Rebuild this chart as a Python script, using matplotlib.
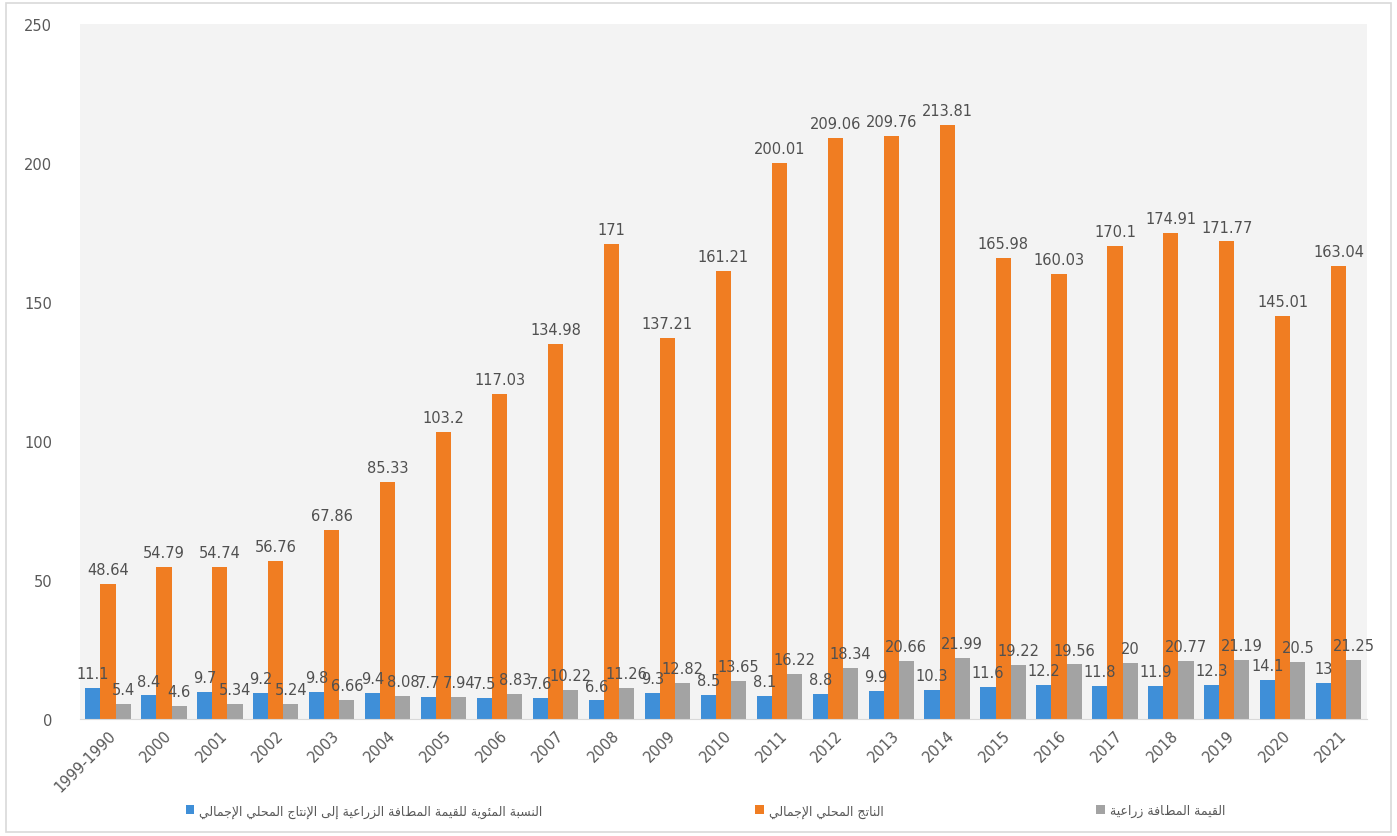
import numpy as np
import matplotlib.pyplot as plt
from matplotlib.patches import Rectangle

# السنوات والقيم (مليار)
years = ["1999-1990", "2000", "2001", "2002", "2003", "2004", "2005", "2006",
         "2007", "2008", "2009", "2010", "2011", "2012", "2013", "2014",
         "2015", "2016", "2017", "2018", "2019", "2020", "2021"]
pct_agri = [11.1, 8.4, 9.7, 9.2, 9.8, 9.4, 7.7, 7.5, 7.6, 6.6, 9.3, 8.5,
            8.1, 8.8, 9.9, 10.3, 11.6, 12.2, 11.8, 11.9, 12.3, 14.1, 13]
gdp = [48.64, 54.79, 54.74, 56.76, 67.86, 85.33, 103.2, 117.03, 134.98, 171,
       137.21, 161.21, 200.01, 209.06, 209.76, 213.81, 165.98, 160.03, 170.1,
       174.91, 171.77, 145.01, 163.04]
agri_value = [5.4, 4.6, 5.34, 5.24, 6.66, 8.08, 7.94, 8.83, 10.22, 11.26,
              12.82, 13.65, 16.22, 18.34, 20.66, 21.99, 19.22, 19.56, 20,
              20.77, 21.19, 20.5, 21.25]

series_names = ["النسبة المئوية للقيمة المضافة الزراعية إلى الإنتاج المحلي الإجمالي",
                "الناتج المحلي الإجمالي",
                "القيمة المضافة زراعية"]

# matplotlib لا يشكّل الحروف العربية: نحوّلها يدوياً إلى أشكال العرض ثم نعكس الترتيب
FORMS = {
    'ا': (0xFE8D, 2), 'إ': (0xFE87, 2), 'ئ': (0xFE89, 4), 'ب': (0xFE8F, 4),
    'ة': (0xFE93, 2), 'ت': (0xFE95, 4), 'ج': (0xFE9D, 4), 'ح': (0xFEA1, 4),
    'ر': (0xFEAD, 2), 'ز': (0xFEAF, 2), 'س': (0xFEB1, 4), 'ض': (0xFEBF, 4),
    'ع': (0xFEC9, 4), 'ف': (0xFED1, 4), 'ق': (0xFED5, 4), 'ل': (0xFEDD, 4),
    'م': (0xFEE1, 4), 'ن': (0xFEE5, 4), 'ه': (0xFEE9, 4), 'و': (0xFEED, 2),
    'ى': (0xFEEF, 2), 'ي': (0xFEF1, 4),
}
LAM_ALEF = {'ا': 0xFEFB, 'إ': 0xFEF9, 'أ': 0xFEF7, 'آ': 0xFEF5}


def shape_ar(text):
    out = []
    i = 0
    while i < len(text):
        c = text[i]
        if c not in FORMS:
            out.append(c)
            i += 1
            continue
        prev = text[i - 1] if i > 0 else None
        joins_prev = prev in FORMS and FORMS[prev][1] == 4
        if c == 'ل' and i + 1 < len(text) and text[i + 1] in LAM_ALEF:
            out.append(chr(LAM_ALEF[text[i + 1]] + (1 if joins_prev else 0)))
            i += 2
            continue
        nxt = text[i + 1] if i + 1 < len(text) else None
        base, n = FORMS[c]
        joins_next = n == 4 and nxt in FORMS
        if joins_prev and joins_next:
            code = base + 3
        elif joins_prev:
            code = base + 1
        elif joins_next:
            code = base + 2
        else:
            code = base
        out.append(chr(code))
        i += 1
    return ''.join(out)[::-1]


colors = ["#3f8fd8", "#f07d22", "#a3a3a3"]
text_col = "#595959"

fig = plt.figure(figsize=(13.97, 8.37), dpi=100)
fig.patches.append(Rectangle((0.004, 0.005), 0.992, 0.99, transform=fig.transFigure,
                             fill=False, edgecolor="#d9d9d9", linewidth=1.2))
ax = fig.add_axes([0.0573, 0.140, 0.921, 0.830])
ax.set_facecolor("#f3f3f3")

x = np.arange(len(years))
w = 0.27
all_series = [pct_agri, gdp, agri_value]
for k, (vals, col) in enumerate(zip(all_series, colors)):
    pos = x + (k - 1) * w
    ax.bar(pos, vals, width=w, color=col, label=shape_ar(series_names[k]), zorder=2)
    for xi, v in zip(pos, vals):
        ax.text(xi, v + 2.5, f"{v:g}", ha="center", va="bottom",
                fontsize=10.5, color="#505050", zorder=3)

ax.set_xlim(-0.5, len(years) - 0.5)
ax.set_ylim(0, 250)
ax.set_yticks(range(0, 251, 50))
ax.set_xticks(x)
ax.set_xticklabels(years, rotation=45, ha="right", rotation_mode="anchor")
ax.tick_params(axis="both", length=0, colors=text_col, labelsize=10.5)
ax.tick_params(axis="y", pad=20)
ax.tick_params(axis="x", pad=6)
for s in ["top", "right", "left"]:
    ax.spines[s].set_visible(False)
ax.spines["bottom"].set_color("#d9d9d9")

fig.legend(loc="center", bbox_to_anchor=(0.505, 0.03), ncol=3, frameon=False,
           fontsize=9, labelcolor=text_col, handlelength=0.7, handleheight=0.7,
           handletextpad=0.4, columnspacing=17)

fig.savefig("out.png", dpi=100)
